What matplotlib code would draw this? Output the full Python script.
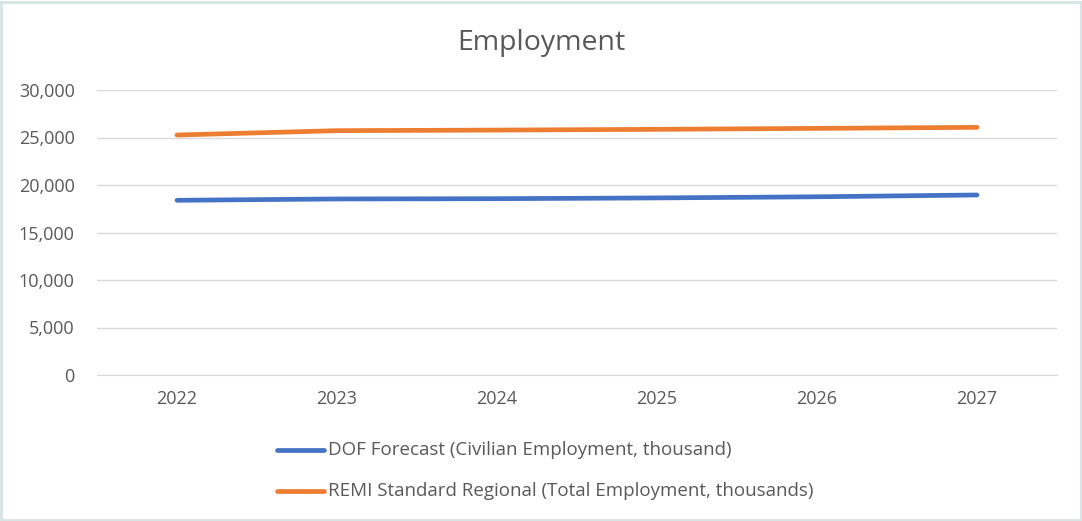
import matplotlib
matplotlib.use("Agg")
import matplotlib.pyplot as plt
from matplotlib.ticker import FuncFormatter, MultipleLocator
from matplotlib.lines import Line2D
from matplotlib.patches import Rectangle

years = ["2022", "2023", "2024", "2025", "2026", "2027"]
dof_forecast = [18390, 18530, 18560, 18640, 18760, 18950]
remi_regional = [25260, 25720, 25780, 25860, 25960, 26070]
series_labels = ["DOF Forecast (Civilian Employment, thousand)",
                 "REMI Standard Regional (Total Employment, thousands)"]
colors = ["#4472C4", "#ED7D31"]

plt.rcParams['font.family'] = ['Open Sans', 'DejaVu Sans']
text_color = "#595959"

fig = plt.figure(figsize=(10.82, 5.21), dpi=100)
ax = fig.add_axes([97/1082, 1 - 375/521, 960/1082, 285/521])

x = list(range(len(years)))
for vals, c, lab in zip([dof_forecast, remi_regional], colors, series_labels):
    ax.plot(x, vals, color=c, lw=3.4, solid_capstyle='round', label=lab)

ax.set_xlim(-0.5, len(years) - 0.5)
ax.set_ylim(0, 30000)
ax.yaxis.set_major_locator(MultipleLocator(5000))
ax.yaxis.set_major_formatter(FuncFormatter(lambda v, p: f"{int(v):,}"))
ax.set_xticks(x)
ax.set_xticklabels(years)
ax.grid(axis='y', color="#D9D9D9", lw=1)
ax.set_axisbelow(True)
for s in ['top', 'right', 'left']:
    ax.spines[s].set_visible(False)
ax.spines['bottom'].set_color("#D9D9D9")
ax.tick_params(axis='both', length=0, labelsize=13, colors=text_color)
ax.tick_params(axis='y', pad=16)
ax.tick_params(axis='x', pad=11)

fig.text(0.5, 1 - 43/521, "Employment", ha='center', va='center',
         fontsize=20.5, color=text_color)

# legend entries (stacked)
for i, (c, lab) in enumerate(zip(colors, series_labels)):
    yy = 1 - (450 + 41 * i) / 521
    fig.add_artist(Line2D([277/1082, 324/1082], [yy, yy], color=c, lw=3.4,
                          solid_capstyle='round', transform=fig.transFigure))
    fig.text(328/1082, yy, lab, ha='left', va='center', fontsize=13.5,
             color=text_color)

fig.add_artist(Rectangle((0.001, 0.001), 0.998, 0.996, transform=fig.transFigure,
                         fill=False, edgecolor="#D6E4E4", lw=2))

fig.savefig("out.png", dpi=100)
